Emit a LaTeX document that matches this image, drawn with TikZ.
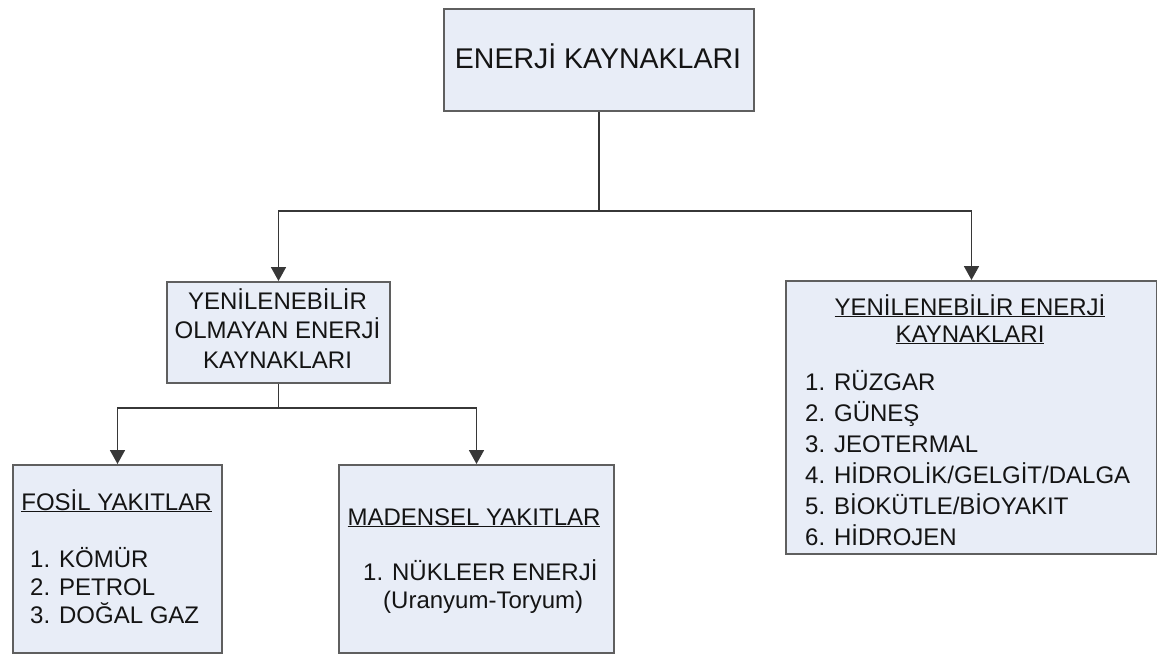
\documentclass[tikz,border=0pt]{standalone}
\usepackage{fontspec}
\setmainfont{Liberation Sans}
\usetikzlibrary{arrows.meta}
\definecolor{boxfill}{RGB}{232,237,247}
\definecolor{boxline}{RGB}{95,95,95}
\definecolor{conn}{RGB}{55,55,55}
\definecolor{txtc}{RGB}{20,20,20}
\begin{document}
\begin{tikzpicture}[x=1pt,y=-1pt,
  box/.style={draw=boxline, line width=2pt, fill=boxfill, inner sep=0pt, anchor=north west},
  conline/.style={line width=1.8pt, draw=conn},
  arr/.style={conline, -{Triangle[width=15pt,length=14pt]}},
  lbl/.style={inner sep=0pt, text=txtc, font=\fontsize{24}{28}\selectfont},
  ttl/.style={inner sep=0pt, text=txtc, font=\fontsize{28.5}{32}\selectfont}]
\useasboundingbox[fill=white] (0,0) rectangle (1157,654);
% boxes
\node[box, minimum width=310pt, minimum height=102pt] (top) at (443,8) {};
\node[box, minimum width=223pt, minimum height=101pt] (nre) at (166,281) {};
\node[box, minimum width=371pt, minimum height=273pt] (re) at (785,280) {};
\node[box, minimum width=209pt, minimum height=188pt] (fosil) at (12,464) {};
\node[box, minimum width=275pt, minimum height=188pt] (maden) at (338,464) {};
% connectors
\coordinate (j1) at (598,211);
\coordinate (j2) at (277.5,408);
\draw[conline] (top.south) -- (top.south |- j1);
\draw[arr] (top.south |- j1) -| (nre.north);
\draw[arr] (top.south |- j1) -| (re.north);
\draw[conline] (nre.south) -- (nre.south |- j2);
\draw[arr] (nre.south |- j2) -| (fosil.north);
\draw[arr] (nre.south |- j2) -| (maden.north);
% texts
\node[ttl, anchor=base] (t0) at (598,68) {ENERJİ KAYNAKLARI};
\node[lbl, anchor=base] (n1) at (277.5,309) {YENİLENEBİLİR};
\node[lbl, anchor=base] (n2) at (277.5,338) {OLMAYAN ENERJİ};
\node[lbl, anchor=base] (n3) at (277.5,368) {KAYNAKLARI};
\node[lbl, anchor=base] (r1) at (970,315) {\underline{YENİLENEBİLİR ENERJİ}};
\node[lbl, anchor=base] (r2) at (970,342) {\underline{KAYNAKLARI}};
\node[lbl, anchor=base west] (ra) at (805,390) {1. RÜZGAR};
\node[lbl, anchor=base west] (rb) at (805,421) {2. GÜNEŞ};
\node[lbl, anchor=base west] (rc) at (805,452) {3. JEOTERMAL};
\node[lbl, anchor=base west] (rd) at (805,483) {4. HİDROLİK/GELGİT/DALGA};
\node[lbl, anchor=base west] (re5) at (805,514) {5. BİOKÜTLE/BİOYAKIT};
\node[lbl, anchor=base west] (rf) at (805,545) {6. HİDROJEN};
\node[lbl, anchor=base] (f0) at (116.5,510) {\underline{FOSİL YAKITLAR}};
\node[lbl, anchor=base west] (fa) at (30,567) {1. KÖMÜR};
\node[lbl, anchor=base west] (fb) at (30,595) {2. PETROL};
\node[lbl, anchor=base west] (fc) at (30,623) {3. DOĞAL GAZ};
\node[lbl, anchor=base] (m0) at (474,525) {\underline{MADENSEL YAKITLAR}};
\node[lbl, anchor=base west] (ma) at (363,580) {1. NÜKLEER ENERJİ};
\node[lbl, anchor=base west] (mb) at (383,608) {(Uranyum-Toryum)};
\end{tikzpicture}
\end{document}
